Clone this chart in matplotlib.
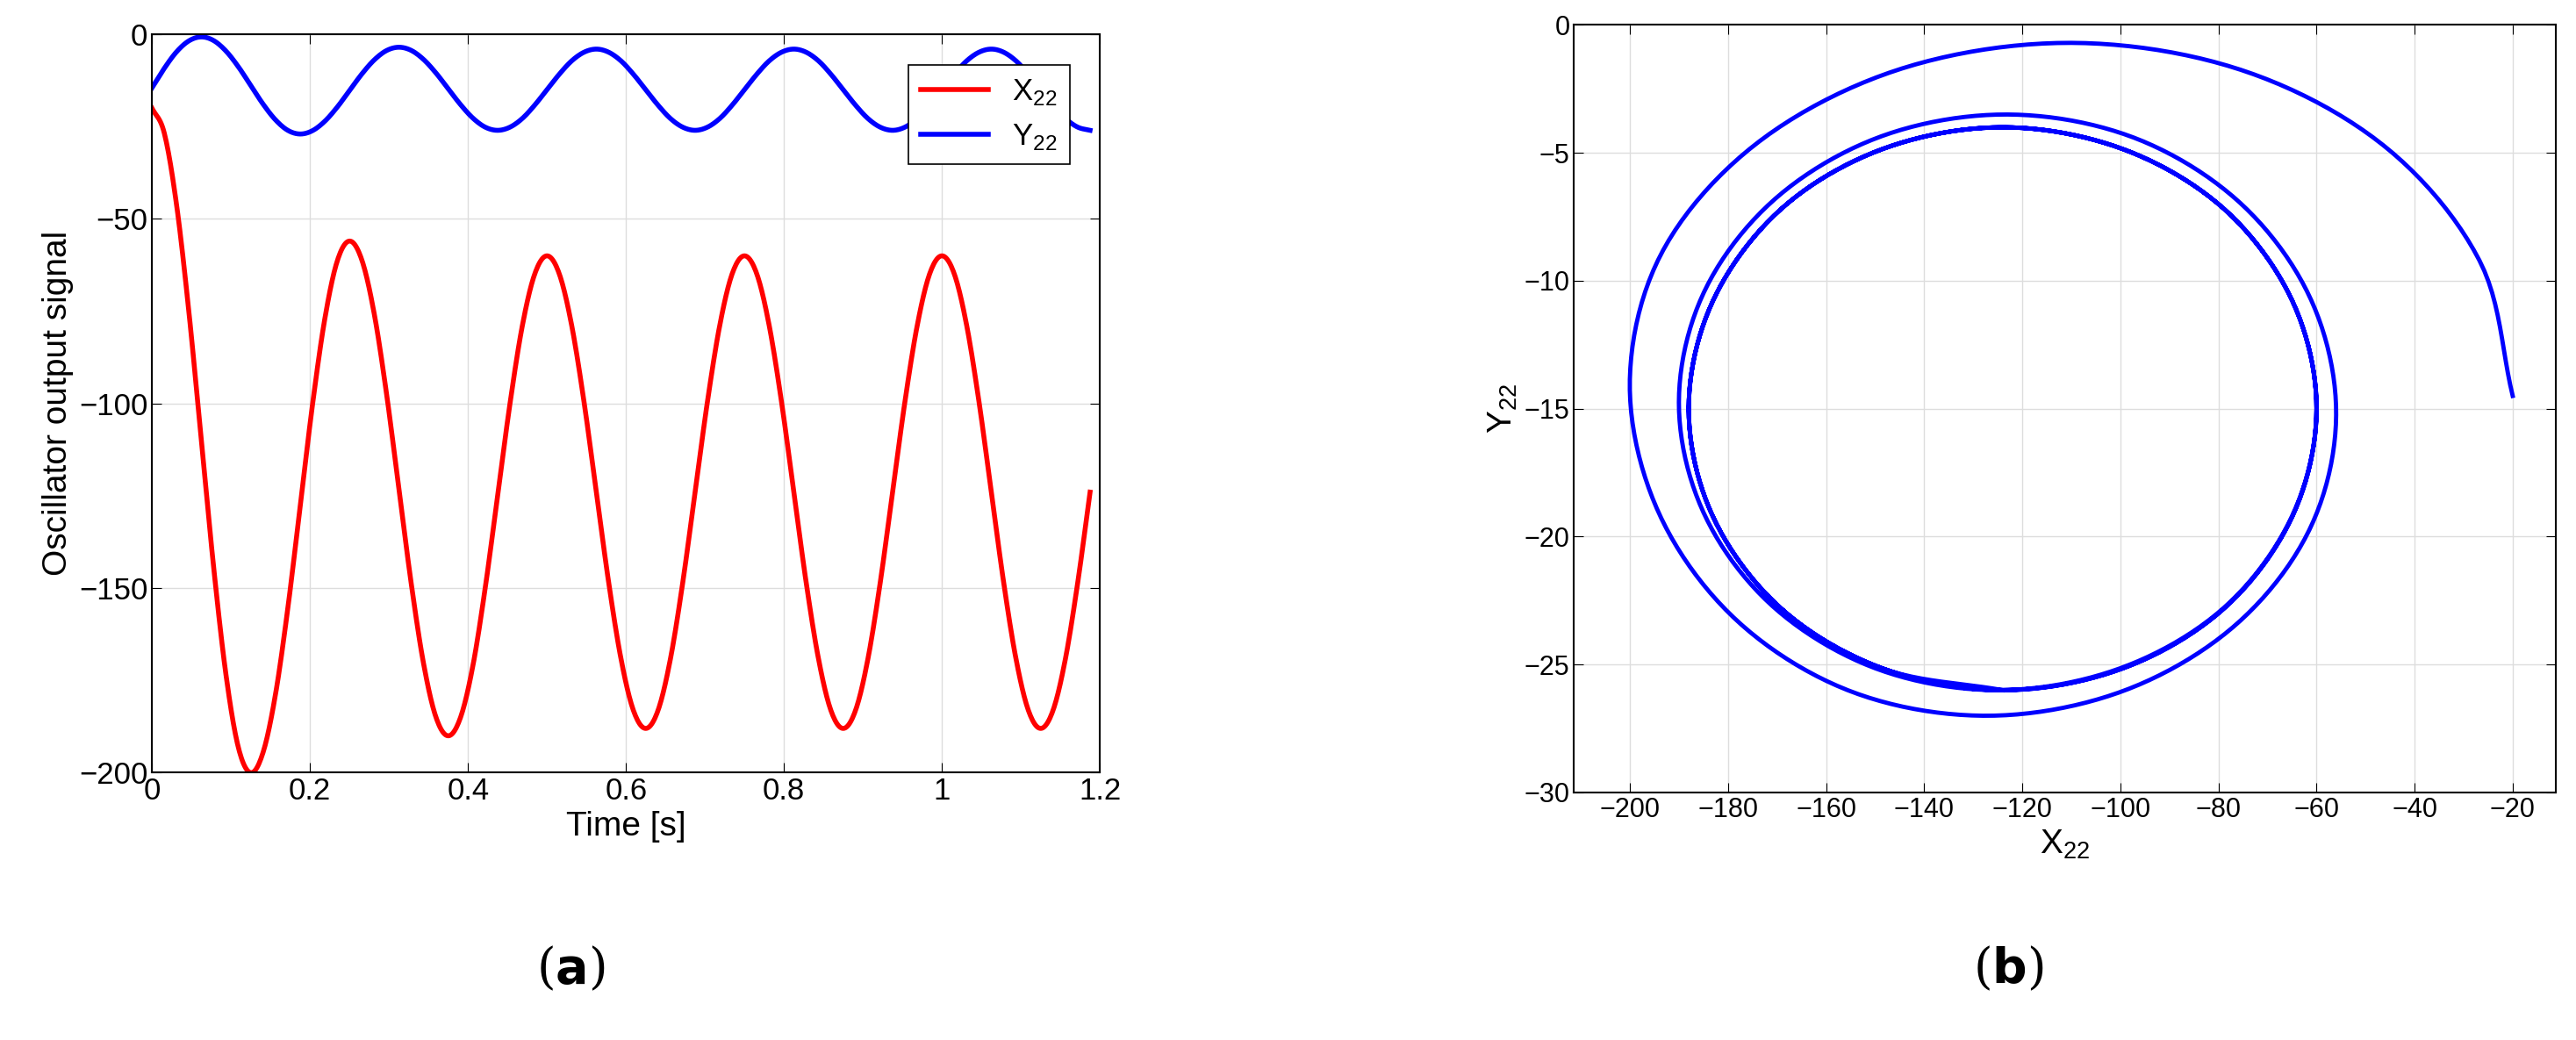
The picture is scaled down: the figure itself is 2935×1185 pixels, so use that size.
import matplotlib
matplotlib.use('Agg')
import matplotlib.pyplot as plt
import numpy as np

plt.rcParams['font.family'] = ['Liberation Sans', 'DejaVu Sans']
plt.rcParams['mathtext.fontset'] = 'custom'
plt.rcParams['mathtext.rm'] = 'Liberation Sans'

t = [k / 64 for k in range(77)]
x22 = [-20, -26.8, -46.4, -75.5, -110, -144.5, -173.6, -193.2,
       -200, -194.5, -178.9, -155.6, -128, -100.4, -77.1, -61.5,
       -56, -61.1, -75.6, -97.3, -123, -148.7, -170.4, -184.9,
       -190, -185, -171, -149.9, -125, -100.1, -79, -65,
       -60, -64.9, -78.8, -99.5, -124, -148.5, -169.2, -183.1,
       -188, -183.1, -169.2, -148.5, -124, -99.5, -78.8, -64.9,
       -60, -64.9, -78.8, -99.5, -124, -148.5, -169.2, -183.1,
       -188, -183.1, -169.2, -148.5, -124, -99.5, -78.8, -64.9,
       -60, -64.9, -78.8, -99.5, -124, -148.5, -169.2, -183.1,
       -188, -183.1, -169.2, -148.5, -124]
y22 = [-14.5, -9.2, -4.7, -1.75,
       -0.7, -1.7, -4.55, -8.8, -13.85, -18.9, -23.15, -26.0,
       -27, -26.1, -23.55, -19.75, -15.25, -10.75, -6.95, -4.4,
       -3.5, -4.35, -6.8, -10.45, -14.75, -19.05, -22.7, -25.15,
       -26, -25.15, -22.8, -19.2, -15, -10.8, -7.2, -4.85,
       -4, -4.85, -7.2, -10.8, -15, -19.2, -22.8, -25.15,
       -26, -25.15, -22.8, -19.2, -15, -10.8, -7.2, -4.85,
       -4, -4.85, -7.2, -10.8, -15, -19.2, -22.8, -25.15,
       -26, -25.15, -22.8, -19.2, -15, -10.8, -7.2, -4.85,
       -4, -4.85, -7.2, -10.8, -15, -19.2, -22.8, -25.15,
       -26]


def smooth(v, n=12):
    # Catmull-Rom through the read points, for drawing only
    p = np.asarray(v, float)
    p = np.concatenate([[2 * p[0] - p[1]], p, [2 * p[-1] - p[-2]]])
    out = []
    s = np.linspace(0, 1, n, endpoint=False)
    for i in range(1, len(p) - 2):
        p0, p1, p2, p3 = p[i - 1], p[i], p[i + 1], p[i + 2]
        out.append(0.5 * (2 * p1 + (-p0 + p2) * s + (2 * p0 - 5 * p1 + 4 * p2 - p3) * s ** 2
                          + (-p0 + 3 * p1 - 3 * p2 + p3) * s ** 3))
    out.append([p[-2]])
    return np.concatenate(out)


ts, xs, ys = smooth(t), smooth(x22), smooth(y22)

fs = 25
fig = plt.figure(figsize=(29.35, 11.85), dpi=100)

ax = fig.add_axes([0.059, 0.257, 0.368, 0.710])
ax.plot(ts, xs, color='red', lw=4, label='X$_{22}$')
ax.plot(ts, ys, color='blue', lw=4, label='Y$_{22}$')
ax.set_xlim(0, 1.2)
ax.set_ylim(-200, 0)
ax.set_xticks([0, 0.2, 0.4, 0.6, 0.8, 1, 1.2])
ax.set_xticklabels(['0', '0.2', '0.4', '0.6', '0.8', '1', '1.2'])
ax.set_yticks([-200, -150, -100, -50, 0])
ax.grid(True, color='#dddddd', lw=1)
ax.tick_params(labelsize=fs, direction='in', top=True, right=True, length=8)
ax.set_xlabel('Time [s]', fontsize=fs + 3)
ax.set_ylabel('Oscillator output signal', fontsize=fs + 3)
leg = ax.legend(loc='upper right', fontsize=fs, fancybox=False, edgecolor='black',
                handlelength=2.2, borderaxespad=1.0, framealpha=1)
leg.get_frame().set_linewidth(1.2)

ax2 = fig.add_axes([0.611, 0.238, 0.381, 0.738])
ax2.plot(xs, ys, color='blue', lw=3.5)
ax2.set_xlim(-211.4, -11.3)
ax2.set_ylim(-30, 0)
ax2.set_xticks(range(-200, 0, 20))
ax2.grid(True, color='#dddddd', lw=1)
ax2.tick_params(labelsize=fs - 3, direction='in', top=True, right=True, length=8)
ax2.set_xlabel('X$_{22}$', fontsize=fs + 3)
ax2.set_ylabel('Y$_{22}$', fontsize=fs + 3)

for a in (ax, ax2):
    for sp in a.spines.values():
        sp.set_linewidth(1.5)

fig.text(0.2215, 0.055, '($\\mathbf{a}$)', fontsize=40, family='DejaVu Serif', ha='center')
fig.text(0.7795, 0.055, '($\\mathbf{b}$)', fontsize=40, family='DejaVu Serif', ha='center')

fig.savefig('out.png')
